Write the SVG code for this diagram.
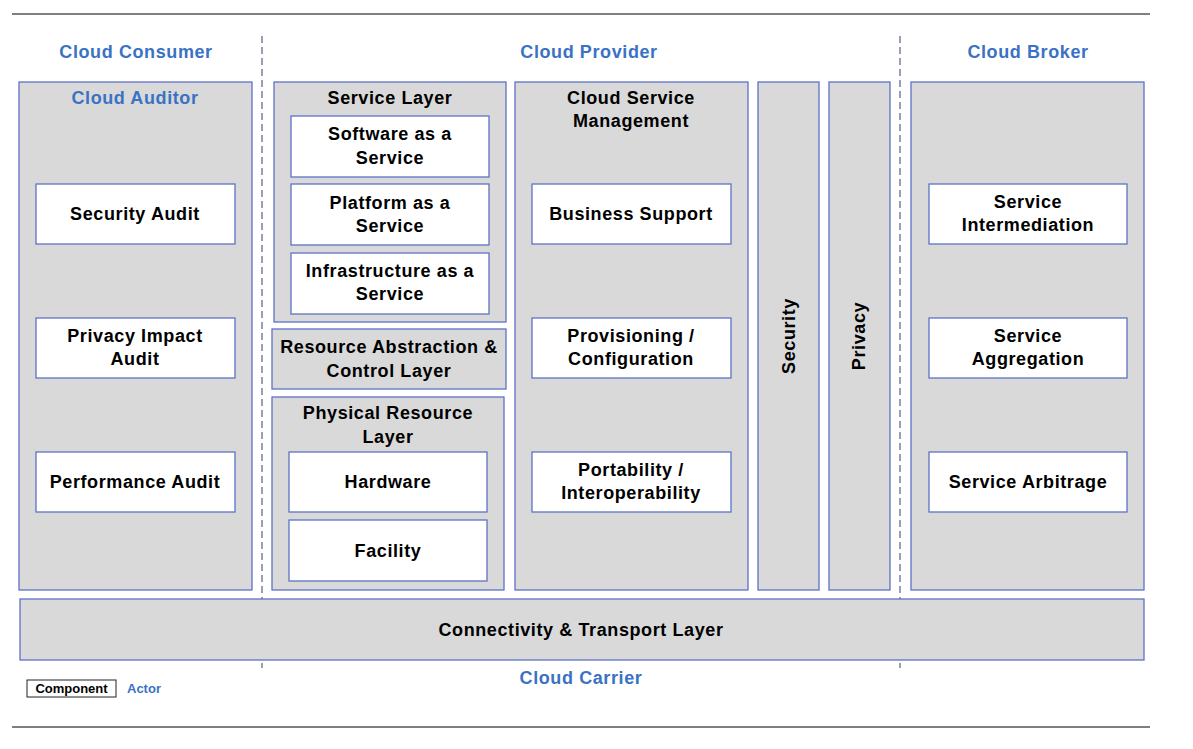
<svg xmlns="http://www.w3.org/2000/svg" width="1193" height="749" viewBox="0 0 1193 749">
<style>
.panel{fill:#d9d9d9;stroke:#5f72c8;stroke-width:1.3}
.box{fill:#ffffff;stroke:#5f72c8;stroke-width:1.3}
.t{font-family:"Liberation Sans",Arial,sans-serif;font-weight:bold;font-size:18px;letter-spacing:0.6px;fill:#000;text-anchor:middle}
.h{font-family:"Liberation Sans",Arial,sans-serif;font-weight:bold;font-size:18px;letter-spacing:0.6px;fill:#3a72c4;text-anchor:middle}
.dash{stroke:#3a3f70;stroke-width:1;stroke-dasharray:7,4;fill:none}
.rule{stroke:#000;stroke-width:1.2}
</style>
<rect width="1193" height="749" fill="#ffffff"/>
<g id="frame">
<line class="rule" x1="12" y1="14" x2="1150" y2="14"/>
<line class="rule" x1="12" y1="727" x2="1150" y2="727"/>
</g>
<g id="connectors">
<line class="dash" x1="262" y1="36" x2="262" y2="668"/>
<line class="dash" x1="900" y1="36" x2="900" y2="668"/>
</g>
<g id="headers">
<text class="h" x="136" y="58">Cloud Consumer</text>
<text class="h" x="589" y="58">Cloud Provider</text>
<text class="h" x="1028" y="58">Cloud Broker</text>
</g>
<g id="cloud-auditor">
<rect class="panel" x="19" y="82" width="233" height="508"/>
<text class="h" x="135" y="104">Cloud Auditor</text>
</g>
<g id="security-audit"><rect class="box" x="36" y="184" width="199" height="60"/><text class="t" x="135" y="220">Security Audit</text></g>
<g id="privacy-impact-audit"><rect class="box" x="36" y="318" width="199" height="60"/><text class="t" x="135" y="342">Privacy Impact</text><text class="t" x="135" y="365">Audit</text></g>
<g id="performance-audit"><rect class="box" x="36" y="452" width="199" height="60"/><text class="t" x="135" y="488">Performance Audit</text></g>

<g id="service-layer"><rect class="panel" x="274" y="82" width="232" height="240"/><text class="t" x="390" y="104">Service Layer</text></g>
<g id="saas"><rect class="box" x="291" y="116" width="198" height="61"/><text class="t" x="390" y="140">Software as a</text><text class="t" x="390" y="164">Service</text></g>
<g id="paas"><rect class="box" x="291" y="184" width="198" height="61"/><text class="t" x="390" y="209">Platform as a</text><text class="t" x="390" y="232">Service</text></g>
<g id="iaas"><rect class="box" x="291" y="253" width="198" height="61"/><text class="t" x="390" y="277">Infrastructure as a</text><text class="t" x="390" y="300">Service</text></g>
<g id="resource-abstraction"><rect class="panel" x="272" y="329" width="234" height="60"/><text class="t" x="389" y="353">Resource Abstraction &amp;</text><text class="t" x="389" y="377">Control Layer</text></g>
<g id="physical-resource-layer"><rect class="panel" x="272" y="397" width="232" height="193"/><text class="t" x="388" y="419">Physical Resource</text><text class="t" x="388" y="443">Layer</text></g>
<g id="hardware"><rect class="box" x="289" y="452" width="198" height="60"/><text class="t" x="388" y="488">Hardware</text></g>
<g id="facility"><rect class="box" x="289" y="520" width="198" height="61"/><text class="t" x="388" y="557">Facility</text></g>

<g id="cloud-service-management"><rect class="panel" x="515" y="82" width="233" height="508"/><text class="t" x="631" y="104">Cloud Service</text><text class="t" x="631" y="127">Management</text></g>
<g id="business-support"><rect class="box" x="532" y="184" width="199" height="60"/><text class="t" x="631" y="220">Business Support</text></g>
<g id="provisioning"><rect class="box" x="532" y="318" width="199" height="60"/><text class="t" x="631" y="342">Provisioning /</text><text class="t" x="631" y="365">Configuration</text></g>
<g id="portability"><rect class="box" x="532" y="452" width="199" height="60"/><text class="t" x="631" y="476">Portability /</text><text class="t" x="631" y="499">Interoperability</text></g>

<g id="security"><rect class="panel" x="758" y="82" width="61" height="508"/><text class="t" transform="translate(795,336) rotate(-90)">Security</text></g>
<g id="privacy"><rect class="panel" x="829" y="82" width="61" height="508"/><text class="t" transform="translate(865,336) rotate(-90)">Privacy</text></g>

<g id="cloud-broker"><rect class="panel" x="911" y="82" width="233" height="508"/></g>
<g id="service-intermediation"><rect class="box" x="929" y="184" width="198" height="60"/><text class="t" x="1028" y="208">Service</text><text class="t" x="1028" y="231">Intermediation</text></g>
<g id="service-aggregation"><rect class="box" x="929" y="318" width="198" height="60"/><text class="t" x="1028" y="342">Service</text><text class="t" x="1028" y="365">Aggregation</text></g>
<g id="service-arbitrage"><rect class="box" x="929" y="452" width="198" height="60"/><text class="t" x="1028" y="488">Service Arbitrage</text></g>

<g id="connectivity"><rect class="panel" x="20" y="599" width="1124" height="61"/><text class="t" x="581" y="636">Connectivity &amp; Transport Layer</text></g>
<g id="cloud-carrier"><text class="h" x="581" y="684">Cloud Carrier</text></g>
<g id="legend">
<rect x="27" y="680" width="89" height="17" fill="#fff" stroke="#222" stroke-width="1"/>
<text x="71.5" y="693" style="font-family:'Liberation Sans',Arial,sans-serif;font-weight:bold;font-size:13px;text-anchor:middle">Component</text>
<text x="127" y="693" style="font-family:'Liberation Sans',Arial,sans-serif;font-weight:bold;font-size:13px;fill:#3a72c4">Actor</text>
</g>
</svg>
